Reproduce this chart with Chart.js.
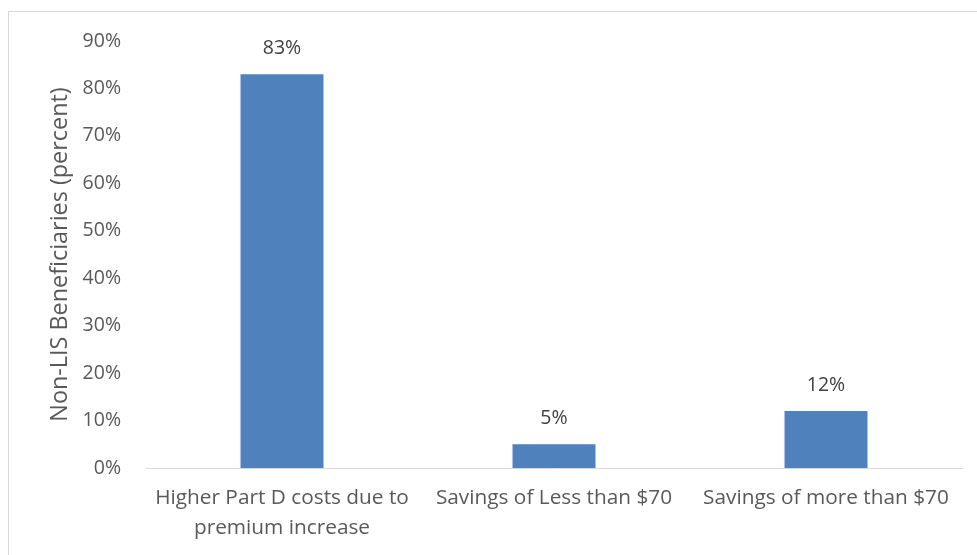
<!DOCTYPE html>
<html>
<head>
<meta charset="utf-8">
<script src="https://cdn.jsdelivr.net/npm/chart.js@4"></script>
<style>
  html, body { margin: 0; padding: 0; background: #fff; }
  #wrap { position: relative; width: 977px; height: 555px; overflow: hidden; }
  #frame { position: absolute; left: 8px; top: 11px; width: 990px; height: 570px; border: 1px solid #d9d9d9; pointer-events: none; }
  canvas { position: absolute; left: 0; top: 0; }
</style>
</head>
<body>
<div id="wrap">
  <canvas id="chart" width="977" height="555"></canvas>
  <div id="frame"></div>
</div>
<script>
const categories = [
  ['Higher Part D costs due to', 'premium increase'],
  'Savings of Less than $70',
  'Savings of more than $70'
];
const values = [83, 5, 12];
const yTitle = 'Non-LIS Beneficiaries (percent)';

const FONT = '"Open Sans", Lato, sans-serif';
const TEXT = '#595959';

// value labels above each bar
const barLabels = {
  id: 'barLabels',
  afterDatasetsDraw(chart) {
    const ctx = chart.ctx;
    const meta = chart.getDatasetMeta(0);
    ctx.save();
    ctx.font = '19.5px ' + FONT;
    ctx.fillStyle = '#404040';
    ctx.textAlign = 'center';
    ctx.textBaseline = 'middle';
    meta.data.forEach((bar, i) => {
      ctx.fillText(values[i] + '%', bar.x, bar.y - 26);
    });
    ctx.restore();
  }
};

new Chart(document.getElementById('chart'), {
  type: 'bar',
  data: {
    labels: categories,
    datasets: [{
      data: values,
      backgroundColor: '#4f81bd',
      borderWidth: 0,
      categoryPercentage: 1,
      barPercentage: 0.305
    }]
  },
  options: {
    responsive: false,
    animation: false,
    layout: { padding: { left: 0, right: 15, top: 41, bottom: 0 } },
    plugins: { legend: { display: false }, tooltip: { enabled: false } },
    scales: {
      x: {
        grid: { display: false, drawTicks: false },
        border: { color: '#d9d9d9', width: 1 },
        ticks: {
          color: TEXT,
          font: { family: FONT, size: 20.8, lineHeight: 1.4 },
          padding: 16,
          maxRotation: 0
        },
        afterFit(scale) { scale.height = 87; }
      },
      y: {
        min: 0,
        max: 90,
        grid: { display: false, drawTicks: false },
        border: { display: false },
        ticks: {
          stepSize: 10,
          color: TEXT,
          font: { family: FONT, size: 19.5 },
          padding: 25,
          callback: v => v + '%'
        },
        title: {
          display: true,
          text: yTitle,
          color: TEXT,
          font: { family: FONT, size: 23.4 },
          padding: { top: 46, bottom: 0 }
        },
        afterFit(scale) { scale.width = 146; }
      }
    }
  },
  plugins: [barLabels]
});
</script>
</body>
</html>
